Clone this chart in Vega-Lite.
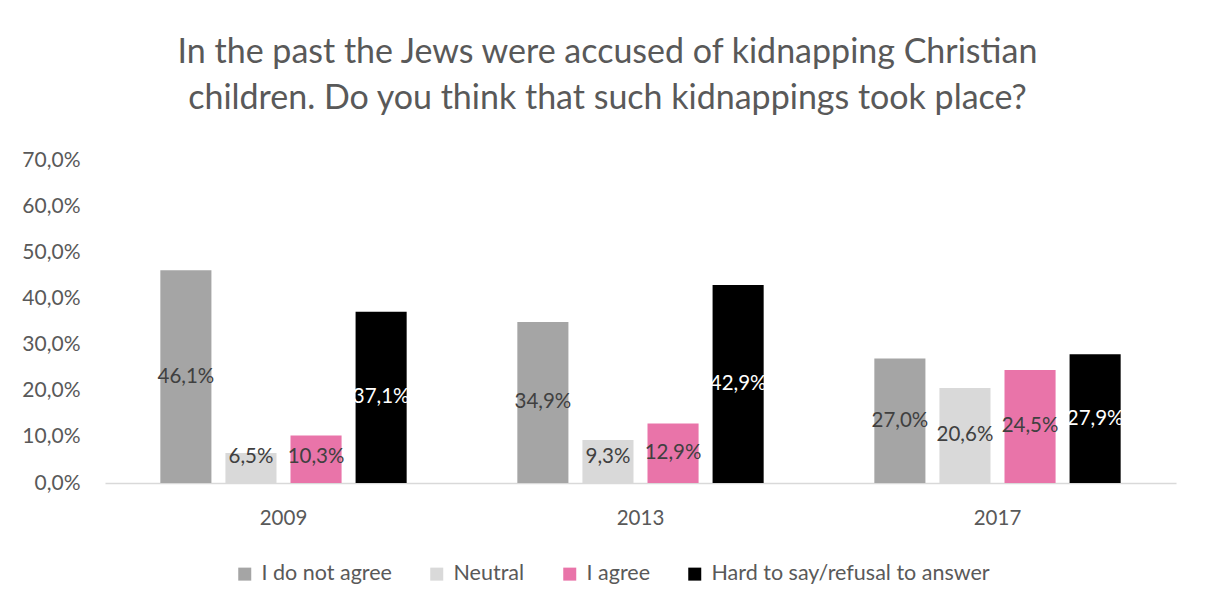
{
  "$schema": "https://vega.github.io/schema/vega-lite/v6.json",
  "width": 1071,
  "height": 323,
  "autosize": "none",
  "padding": {"left": 105, "top": 160, "right": 37, "bottom": 131},
  "background": "white",
  "config": {
    "font": "Lato",
    "view": {"stroke": null},
    "locale": {"number": {"decimal": ",", "thousands": ".", "grouping": [3], "currency": ["", " €"]}}
  },
  "title": {
    "text": ["In the past the Jews were accused of kidnapping Christian", "children. Do you think that such kidnappings took place?"],
    "fontSize": 34,
    "fontWeight": "normal",
    "color": "#595959",
    "anchor": "middle",
    "frame": "group",
    "dx": -33,
    "offset": 33,
    "lineHeight": 46
  },
  "data": {
    "values": [
      {"year": "2009", "answer": "I do not agree", "value": 0.461},
      {"year": "2009", "answer": "Neutral", "value": 0.065},
      {"year": "2009", "answer": "I agree", "value": 0.103},
      {"year": "2009", "answer": "Hard to say/refusal to answer", "value": 0.371},
      {"year": "2013", "answer": "I do not agree", "value": 0.349},
      {"year": "2013", "answer": "Neutral", "value": 0.093},
      {"year": "2013", "answer": "I agree", "value": 0.129},
      {"year": "2013", "answer": "Hard to say/refusal to answer", "value": 0.429},
      {"year": "2017", "answer": "I do not agree", "value": 0.270},
      {"year": "2017", "answer": "Neutral", "value": 0.206},
      {"year": "2017", "answer": "I agree", "value": 0.245},
      {"year": "2017", "answer": "Hard to say/refusal to answer", "value": 0.279}
    ]
  },
  "encoding": {
    "x": {
      "field": "year", "type": "nominal",
      "scale": {"paddingInner": 0.31, "paddingOuter": 0.155},
      "axis": {"title": null, "labelAngle": 0, "labelFontSize": 20.5, "labelColor": "#595959", "domainColor": "#d9d9d9", "domainWidth": 1.5, "ticks": false, "labelPadding": 25}
    },
    "xOffset": {
      "field": "answer", "type": "nominal",
      "sort": ["I do not agree", "Neutral", "I agree", "Hard to say/refusal to answer"],
      "scale": {"paddingInner": 0.215, "paddingOuter": 0}
    }
  },
  "layer": [
    {
      "mark": {"type": "bar"},
      "encoding": {
        "y": {
          "field": "value", "type": "quantitative",
          "scale": {"domain": [0, 0.7]},
          "axis": {"title": null, "format": ".1%", "values": [0, 0.1, 0.2, 0.3, 0.4, 0.5, 0.6, 0.7], "labelOverlap": false, "grid": false, "domain": false, "ticks": false, "labelFontSize": 21, "labelColor": "#595959", "labelPadding": 25}
        },
        "color": {
          "field": "answer", "type": "nominal",
          "sort": ["I do not agree", "Neutral", "I agree", "Hard to say/refusal to answer"],
          "scale": {"domain": ["I do not agree", "Neutral", "I agree", "Hard to say/refusal to answer"], "range": ["#a5a5a5", "#d9d9d9", "#e974a9", "#000000"]},
          "legend": {
            "title": null, "orient": "none", "direction": "horizontal",
            "legendX": 129, "legendY": 403,
            "symbolType": "square", "symbolSize": 169, "symbolStrokeWidth": 0,
            "labelFontSize": 21.5, "labelColor": "#595959", "labelLimit": 0, "columnPadding": 34, "labelOffset": 6
          }
        }
      }
    },
    {
      "transform": [{"calculate": "max(datum.value / 2, 0.056)", "as": "mid"}],
      "mark": {"type": "text", "fontSize": 20.5, "baseline": "middle"},
      "encoding": {
        "y": {"field": "mid", "type": "quantitative"},
        "text": {"field": "value", "type": "quantitative", "format": ".1%"},
        "color": {"condition": {"test": "datum.answer === 'Hard to say/refusal to answer'", "value": "white"}, "value": "#404040"}
      }
    }
  ]
}
